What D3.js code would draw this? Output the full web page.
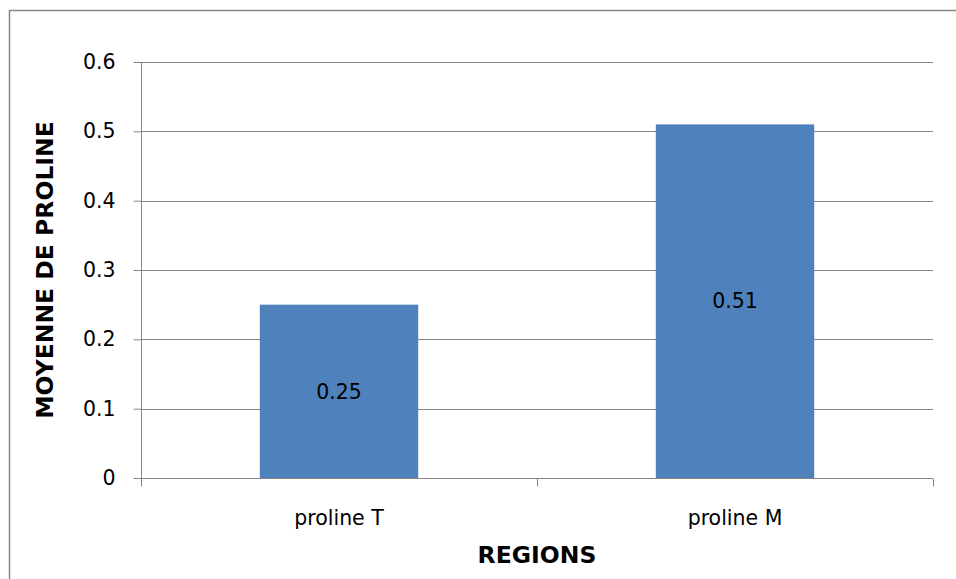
<!DOCTYPE html>
<html><head><meta charset="utf-8">
<script src="https://cdn.jsdelivr.net/npm/d3@7"></script>
<style>body{margin:0;background:#fff}svg{display:block}text{font-family:"DejaVu Sans",sans-serif}</style>
</head><body>
<svg id="c" width="956" height="579"></svg>
<script>
const categories = ["proline T", "proline M"];
const values = [0.25, 0.51];
const yTicks = [0, 0.1, 0.2, 0.3, 0.4, 0.5, 0.6];
const yTitle = "MOYENNE DE PROLINE";
const xTitle = "REGIONS";

const svg = d3.select("#c");
const m = {l:141, r:933, t:62, b:478};
const FS = 20.5, FT = 23.5;
svg.append("rect").attr("x",9.5).attr("y",10.5).attr("width",1000).attr("height",600)
  .attr("fill","#fff").attr("stroke","#868686").attr("stroke-width",1.5);

const x = d3.scaleBand().domain(categories).range([m.l, m.r]).padding(0);
const y = d3.scaleLinear().domain([0,0.6]).range([m.b, m.t]);
const grid = "#868686";

// gridlines
svg.append("g").selectAll("line").data(yTicks.filter(d=>d>0)).join("line")
  .attr("x1",m.l).attr("x2",m.r).attr("y1",d=>Math.round(y(d))+0.5).attr("y2",d=>Math.round(y(d))+0.5)
  .attr("stroke",grid).attr("stroke-width",1);

// bars
const bw = x.bandwidth()*0.4;
svg.append("g").selectAll("rect").data(values).join("rect")
  .attr("x",(d,i)=>x(categories[i])+x.bandwidth()/2-bw/2)
  .attr("width",bw)
  .attr("y",d=>y(d)).attr("height",d=>y(0)-y(d))
  .attr("fill","#4f81bd");

// value labels
svg.append("g").selectAll("text").data(values).join("text")
  .attr("x",(d,i)=>x(categories[i])+x.bandwidth()/2)
  .attr("y",d=>(y(d)+y(0))/2)
  .attr("dy","0.35em").attr("text-anchor","middle").attr("font-size",FS).attr("fill","#000")
  .text(d=>d);

// y axis
const ya = svg.append("g").attr("transform",`translate(${m.l+0.5},0)`)
  .call(d3.axisLeft(y).tickValues(yTicks).tickSize(8).tickPadding(18).tickFormat(d=>d===0?"0":d3.format(".1f")(d)));
ya.select(".domain").remove();
ya.selectAll("line").attr("stroke",grid);
ya.selectAll("text").attr("font-size",FS).attr("fill","#000").style("font-family","'DejaVu Sans',sans-serif");
svg.append("line").attr("x1",m.l+0.5).attr("x2",m.l+0.5).attr("y1",m.t).attr("y2",m.b).attr("stroke",grid);

// x axis
const xa = svg.append("g").attr("transform",`translate(0,${m.b+0.5})`);
xa.append("line").attr("x1",m.l).attr("x2",m.r).attr("stroke",grid);
const edges = categories.map(c=>x(c)).concat([x(categories[categories.length-1])+x.bandwidth()]);
xa.selectAll("line.t").data(edges).join("line").attr("class","t")
  .attr("x1",d=>Math.round(d)+0.5).attr("x2",d=>Math.round(d)+0.5).attr("y1",0).attr("y2",8).attr("stroke",grid);
xa.selectAll("text").data(categories).join("text")
  .attr("x",d=>x(d)+x.bandwidth()/2).attr("y",46.5).attr("text-anchor","middle")
  .attr("font-size",FS).attr("fill","#000").text(d=>d);

// titles
svg.append("text").attr("transform",`translate(45,${(m.t+m.b)/2}) rotate(-90)`)
  .attr("dy","0.35em").attr("text-anchor","middle").attr("font-size",FT).attr("font-weight","bold").text(yTitle);
svg.append("text").attr("x",(m.l+m.r)/2).attr("y",555).attr("dy","0.35em")
  .attr("text-anchor","middle").attr("font-size",FT).attr("font-weight","bold").text(xTitle);
</script>
</body></html>
